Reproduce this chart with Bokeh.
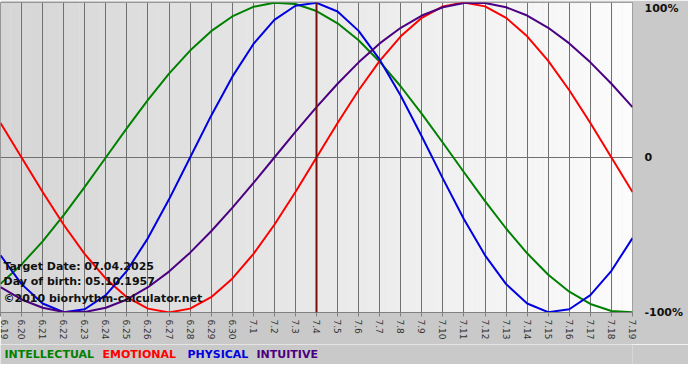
import math
from bokeh.plotting import figure
from bokeh.layouts import column
from bokeh.models import FixedTicker, Span, Label, LinearAxis, Range1d
from bokeh.core.properties import value
from bokeh.embed import file_html
from bokeh.resources import INLINE

# ---- data (values in percent, one per day) ----
dates = ["6.19", "6.20", "6.21", "6.22", "6.23", "6.24", "6.25", "6.26", "6.27", "6.28",
         "6.29", "6.30", "7.1", "7.2", "7.3", "7.4", "7.5", "7.6", "7.7", "7.8", "7.9",
         "7.10", "7.11", "7.12", "7.13", "7.14", "7.15", "7.16", "7.17", "7.18", "7.19"]
physical = [-63.1, -81.7, -94.2, -99.8, -97.9, -88.8, -73.1, -52.0, -27.0, 0.0, 27.0,
            52.0, 73.1, 88.8, 97.9, 99.8, 94.2, 81.7, 63.1, 39.8, 13.6, -13.6, -39.8,
            -63.1, -81.7, -94.2, -99.8, -97.9, -88.8, -73.1, -52.0]
emotional = [22.3, 0.0, -22.3, -43.4, -62.3, -78.2, -90.1, -97.5, -100.0, -97.5, -90.1,
             -78.2, -62.3, -43.4, -22.3, 0.0, 22.3, 43.4, 62.3, 78.2, 90.1, 97.5, 100.0,
             97.5, 90.1, 78.2, 62.3, 43.4, 22.3, 0.0, -22.3]
intellectual = [-81.5, -69.0, -54.1, -37.2, -18.9, 0.0, 18.9, 37.2, 54.1, 69.0, 81.5,
                91.0, 97.2, 99.9, 99.0, 94.5, 86.6, 75.6, 61.8, 45.8, 28.2, 9.5, -9.5,
                -28.2, -45.8, -61.8, -75.6, -86.6, -94.5, -99.0, -99.9]
intuitive = [-83.7, -91.6, -96.9, -99.7, -99.7, -96.9, -91.6, -83.7, -73.6, -61.4, -47.6,
             -32.5, -16.5, 0.0, 16.5, 32.5, 47.6, 61.4, 73.6, 83.7, 91.6, 96.9, 99.7,
             99.7, 96.9, 91.6, 83.7, 73.6, 61.4, 47.6, 32.5]
target_index = 15
info_lines = ["Target Date: 07.04.2025", "Day of birth: 05.10.1957",
              "\u00a92010 biorhythm-calculator.net"]
info_y = [-70, -80, -91]
legend_names = ["INTELLECTUAL", "EMOTIONAL", "PHYSICAL", "INTUITIVE"]
right_labels = ["100%", "0", "-100%"]

days = list(range(len(dates)))
BORDER = "#c9c9c9"
FRAME_W = 632
RIGHT_B = 56

p = figure(frame_width=FRAME_W, frame_height=310, output_backend="svg", toolbar_location=None,
           x_range=Range1d(0, len(dates) - 1), y_range=Range1d(-100, 100),
           min_border_left=0, min_border_right=RIGHT_B, min_border_top=2, min_border_bottom=32)
p.border_fill_color = BORDER
p.background_fill_color = "#e8e8e8"
p.outline_line_color = "#808080"
p.outline_line_width = 1

# background gradient (decorative)
n = 64
x0, x1 = p.x_range.start, p.x_range.end
lefts = [x0 + (x1 - x0) * i / n for i in range(n)]
rights = [x0 + (x1 - x0) * (i + 1) / n for i in range(n)]
cols = []
for i in range(n):
    t = i / (n - 1)
    c = int(214 + (252 - 214) * t)
    cols.append("#%02x%02x%02x" % (c, c, c))
bg = p.quad(left=lefts, right=rights, bottom=-100, top=100, fill_color=cols, line_color=None)
bg.level = "image"

# axes
p.yaxis.visible = False
p.xaxis.ticker = FixedTicker(ticks=days)
p.xaxis.major_label_overrides = {i: d for i, d in enumerate(dates)}
p.xaxis.major_label_orientation = -math.pi / 2
p.xaxis.major_label_text_font = "DejaVu Sans"
p.xaxis.major_label_text_font_size = "9px"
p.xaxis.major_label_text_color = "#333333"
p.xaxis.major_label_standoff = 3
p.xaxis.major_tick_out = 4
p.xaxis.major_tick_in = 0
p.xaxis.major_tick_line_color = "#808080"
p.xaxis.axis_line_color = "#808080"
p.xaxis.minor_tick_line_color = None

# right-hand percent labels
ry = LinearAxis(ticker=FixedTicker(ticks=[96, 0, -100]),
                major_label_overrides={96: right_labels[0], 0: right_labels[1], -100: right_labels[2]})
ry.axis_line_color = None
ry.major_tick_line_color = None
ry.minor_tick_line_color = None
ry.major_label_standoff = 6
ry.major_label_text_font = "DejaVu Sans"
ry.major_label_text_font_size = "11px"
ry.major_label_text_font_style = "bold"
ry.major_label_text_color = "#111111"
p.add_layout(ry, "right")

p.xgrid.ticker = FixedTicker(ticks=days)
p.xgrid.grid_line_color = "#707070"
p.xgrid.grid_line_width = 1
p.ygrid.ticker = FixedTicker(ticks=[0])
p.ygrid.grid_line_color = "#707070"
p.ygrid.grid_line_width = 1

# target date line
p.add_layout(Span(location=target_index, dimension="height", line_color="#7a0f0f", line_width=2))

# curves
series = [(intellectual, "#008000"), (emotional, "#ff0000"), (physical, "#0000e0"), (intuitive, "#4b0082")]
for vals, col in series:
    p.line(days, vals, line_color=col, line_width=2, line_join="round")

# info texts
for txt, yv in zip(info_lines, info_y):
    p.add_layout(Label(x=0, y=yv, text=txt, x_offset=3, text_font="DejaVu Sans",
                       text_font_size="11px", text_font_style="bold", text_color="#111111",
                       text_baseline="middle"))

# legend strip (x in pixels from the left edge)
lg = figure(frame_width=FRAME_W, frame_height=20, output_backend="svg", toolbar_location=None,
            x_range=Range1d(0, FRAME_W), y_range=Range1d(0, 1),
            min_border_left=0, min_border_right=RIGHT_B, min_border_top=0, min_border_bottom=0)
lg.axis.visible = False
lg.grid.visible = False
lg.outline_line_color = None
lg.background_fill_color = BORDER
lg.border_fill_color = BORDER
legend_colors = ["#008000", "#ff0000", "#0000e0", "#4b0082"]
legend_x = [4, 102, 187, 256]
lg.text(x=legend_x, y=[0.5] * 4, text=legend_names, text_color=legend_colors,
        text_font=value("DejaVu Sans"), text_font_size="11px", text_font_style="bold",
        text_baseline="middle")

layout = column(p, lg, spacing=0)
open("out.html", "w").write(file_html(layout, INLINE))
